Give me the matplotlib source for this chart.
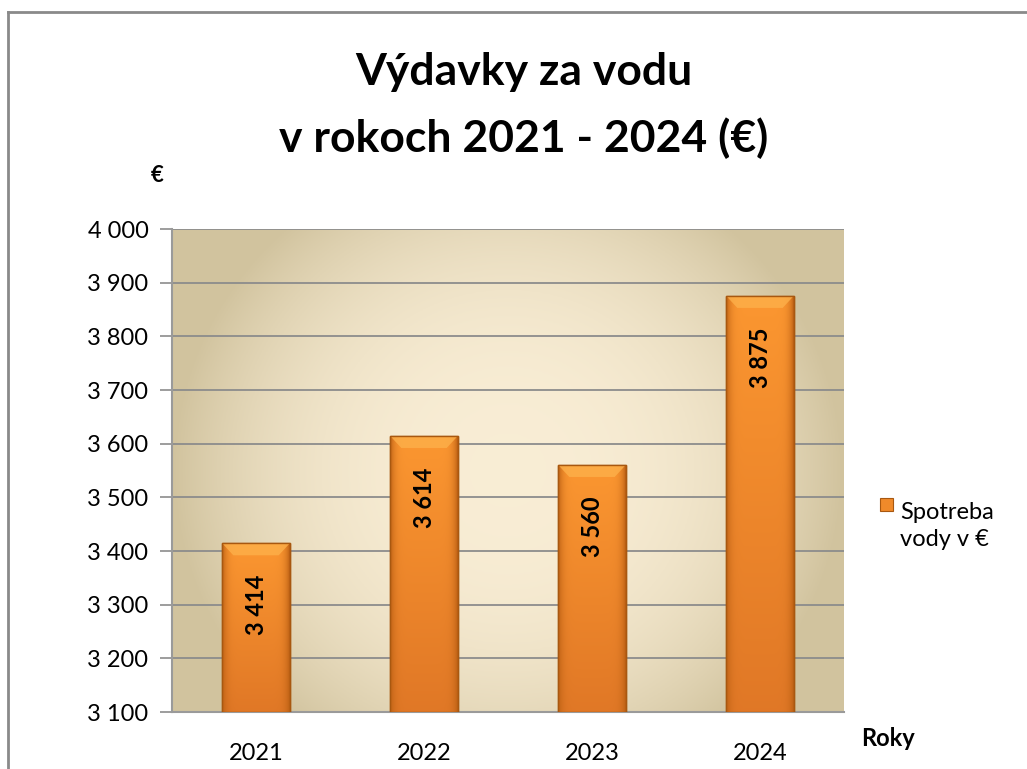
import numpy as np
import matplotlib.pyplot as plt
from matplotlib.lines import Line2D
from matplotlib.ticker import FuncFormatter

plt.rcParams['font.family'] = ['Lato', 'DejaVu Sans']

years = ['2021', '2022', '2023', '2024']
spending = [3414, 3614, 3560, 3875]
y_ticks = [3100, 3200, 3300, 3400, 3500, 3600, 3700, 3800, 3900, 4000]
series_name = 'Spotreba\nvody v €'


def thousands(v, pos=None):
    return f'{int(v):,}'.replace(',', ' ')


def plot_chart():
    fig = plt.figure(figsize=(10.27, 7.69), dpi=100)
    W, H = 1027, 769
    # plot area in pixels: left 172, right 844, top 229, bottom 712
    ax = fig.add_axes([172 / W, 1 - 712 / H, (844 - 172) / W, (712 - 229) / H])

    # --- background gradient (warm light centre, darker beige edges) ---
    nx, ny = 300, 200
    gx, gy = np.meshgrid(np.linspace(-1, 1, nx), np.linspace(-1, 1, ny))
    r = np.clip(np.sqrt((gx / 1.0) ** 2 + (gy / 1.35) ** 2), 0, 1) ** 2.6
    light = np.array([0.975, 0.93, 0.835])
    dark = np.array([0.82, 0.765, 0.62])
    bg = light[None, None, :] * (1 - r[..., None]) + dark[None, None, :] * r[..., None]
    ax.imshow(bg, extent=[0, 1, 0, 1], transform=ax.transAxes, aspect='auto', zorder=0)

    x = np.arange(len(years))
    bars = ax.bar(x, [v - y_ticks[0] for v in spending], bottom=y_ticks[0], width=0.4,
                  color='#f08a2a', edgecolor='#a85810', linewidth=1.0, zorder=3)

    # orange shading on each bar
    bx = np.linspace(0, 1, 60)
    by = np.linspace(0, 1, 120)
    BX, BY = np.meshgrid(bx, by)
    side = np.abs(BX - 0.5) * 2
    top_c = np.array([0.985, 0.59, 0.19])
    bot_c = np.array([0.88, 0.47, 0.15])
    edge_c = np.array([0.74, 0.38, 0.08])
    base = top_c[None, None, :] * (1 - BY[..., None]) + bot_c[None, None, :] * BY[..., None]
    k = (side ** 8)[..., None]
    shade = base * (1 - k) + edge_c[None, None, :] * k
    bevel_h = 22
    bevel_d = 0.065
    for b in bars:
        x0, y0 = b.get_x(), b.get_y()
        x1, y1 = x0 + b.get_width(), y0 + b.get_height()
        im = ax.imshow(shade, extent=[x0, x1, y0, y1],
                       origin='upper', aspect='auto', zorder=3.5)
        im.set_clip_path(b)
        ax.add_patch(plt.Polygon([(x0, y1), (x1, y1), (x1 - bevel_d, y1 - bevel_h),
                                  (x0 + bevel_d, y1 - bevel_h)], closed=True,
                                 facecolor='#fdb04a', edgecolor='none', alpha=0.8, zorder=3.8))
        ax.add_patch(plt.Rectangle((x0, y0), b.get_width(), b.get_height(), fill=False,
                                   edgecolor='#a85810', linewidth=1.0, zorder=4))

    for xi, v in zip(x, spending):
        ax.text(xi, v - 58, thousands(v), rotation=90, ha='center', va='top',
                fontsize=17, fontweight='bold', color='black', zorder=5)

    ax.set_xlim(-0.5, len(years) - 0.5)
    ax.set_ylim(y_ticks[0], y_ticks[-1])
    ax.set_yticks(y_ticks)
    ax.yaxis.set_major_formatter(FuncFormatter(thousands))
    ax.set_xticks(x)
    ax.set_xticklabels(years)
    ax.tick_params(axis='y', length=9, width=1.2, color='#8c8c8c', labelsize=17, pad=8)
    ax.tick_params(axis='x', length=0, labelsize=17, pad=22)
    ax.grid(axis='y', color='#8c8c8c', linewidth=1.3, zorder=1)
    ax.set_axisbelow(True)
    for s in ['top', 'right']:
        ax.spines[s].set_visible(False)
    for s in ['left', 'bottom']:
        ax.spines[s].set_color('#9a9a9a')
        ax.spines[s].set_linewidth(1.5)

    # titles and axis captions
    fig.text(524 / W, 1 - 72 / H, 'Výdavky za vodu', ha='center', va='center',
             fontsize=32, fontweight='bold')
    fig.text(524 / W, 1 - 138 / H, 'v rokoch 2021 - 2024 (€)', ha='center', va='center',
             fontsize=32, fontweight='bold')
    fig.text(157 / W, 1 - 176 / H, '€', ha='center', va='center', fontsize=16, fontweight='bold')
    fig.text(888 / W, 1 - 738 / H, 'Roky', ha='center', va='center', fontsize=17, fontweight='bold')

    # legend
    fig.patches.append(plt.Rectangle((880 / W, 1 - 511 / H), 13 / W, 13 / H,
                                     transform=fig.transFigure, facecolor='#f08a2a',
                                     edgecolor='#a85810', linewidth=0.8))
    fig.text(900 / W, 1 - 526 / H, series_name, ha='left', va='center', fontsize=17,
             linespacing=1.35)

    # outer chart border (only top and left fall inside the picture)
    fig.add_artist(Line2D([8 / W, 8 / W], [0, 1 - 12 / H], transform=fig.transFigure,
                          color='#8a8a8a', linewidth=2))
    fig.add_artist(Line2D([8 / W, 1], [1 - 12 / H, 1 - 12 / H], transform=fig.transFigure,
                          color='#8a8a8a', linewidth=2))

    fig.savefig('out.png', dpi=100)


if __name__ == '__main__':
    plot_chart()
